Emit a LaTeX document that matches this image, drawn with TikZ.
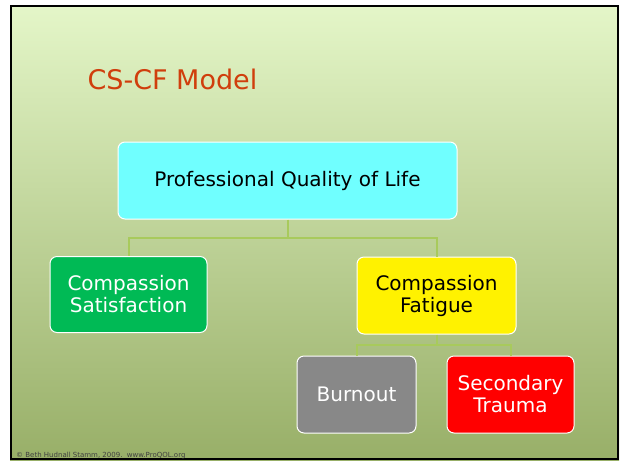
\documentclass[tikz,border=0pt]{standalone}
\usepackage{fontspec}
\setmainfont{DejaVu Sans}
\usepackage{tikz}

\definecolor{slidetop}{RGB}{228,246,200}
\definecolor{slidebot}{RGB}{152,175,104}
\definecolor{titlered}{RGB}{208,62,12}
\definecolor{linkgreen}{RGB}{168,202,92}
\definecolor{pqlcyan}{RGB}{112,255,255}
\definecolor{csgreen}{RGB}{0,186,85}
\definecolor{burngray}{RGB}{136,136,136}

\begin{document}
\begin{tikzpicture}
    [x=1pt,y=-1pt,
     box/.style={rectangle,rounded corners=7pt,draw=white,line width=1pt,
       align=center,inner sep=0pt,font=\fontsize{20}{22}\selectfont},
     link/.style={draw=linkgreen,line width=2pt}]
    \useasboundingbox (0,0) rectangle (620,461);
    % slide background
    \shade[top color=slidetop,bottom color=slidebot] (10,5) rectangle (619,460);
    \draw[line width=2pt] (11,6) -- (618,6) -- (618,459) -- (11,459) -- cycle;
    \node[anchor=base west,text=titlered,font=\fontsize{27}{30}\selectfont] (title) at (84,89) {CS-CF Model};
    % boxes
    \node[box,fill=pqlcyan,minimum width=339pt,minimum height=77pt] (pql) at (287.5,180.5) {Professional Quality of Life};
    \node[box,fill=csgreen,text=white,minimum width=157pt,minimum height=76pt] (cs) at (128.5,294.5) {Compassion\\Satisfaction};
    \node[box,fill=yellow,minimum width=159pt,minimum height=77pt] (cf) at (436.5,295.5) {Compassion\\Fatigue};
    \node[box,fill=burngray,text=white,minimum width=119pt,minimum height=77pt] (burn) at (356.5,394.5) {Burnout};
    \node[box,fill=red,text=white,minimum width=127pt,minimum height=77pt] (st) at (510.5,394.5) {Secondary\\Trauma};
    % connectors
    \coordinate (j1) at (287.5,238);
    \coordinate (j2) at (436.5,345);
    \draw[link] (pql.south) -- (j1);
    \draw[link] (j1) -| (cs.north);
    \draw[link] (j1) -| (cf.north);
    \draw[link] (cf.south) -- (j2);
    \draw[link] (j2) -| (burn.north);
    \draw[link] (j2) -| (st.north);
    \node[anchor=base west,text=black!75,font=\fontsize{7}{8}\selectfont,inner sep=0pt] (credit) at (16,457) {© Beth Hudnall Stamm, 2009.\ \ www.ProQOL.org};
\end{tikzpicture}
\end{document}
